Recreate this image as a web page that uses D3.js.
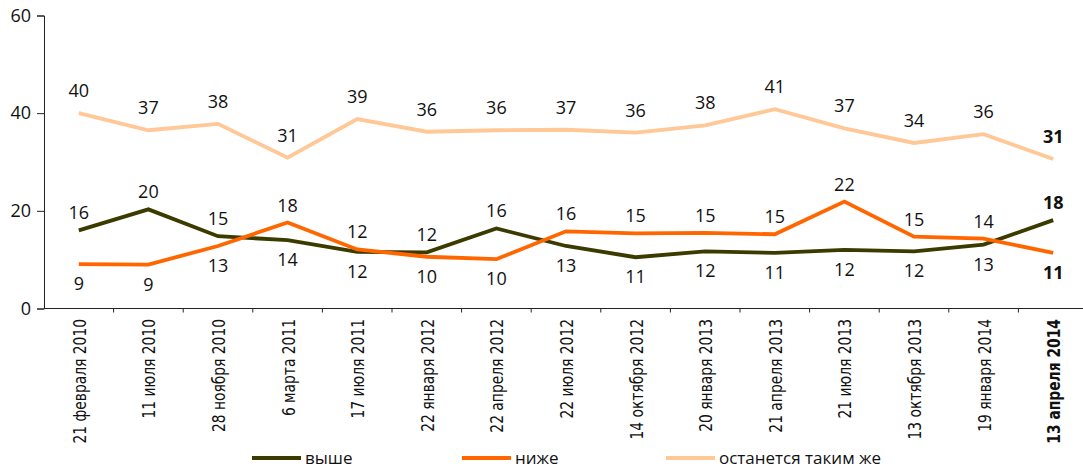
<!DOCTYPE html>
<html>
<head>
<meta charset="utf-8">
<script src="https://cdn.jsdelivr.net/npm/d3@7"></script>
<style>
  html, body { margin: 0; padding: 0; background: #fff; }
  svg { display: block; }
  .num { font-family: "Open Sans", "Noto Sans", sans-serif; font-size: 18px; fill: #111; }
  .xlab { font-family: "Liberation Sans Narrow", "DejaVu Sans Condensed", sans-serif; font-size: 17.5px; fill: #111; }
  .leg { font-family: "Open Sans", "Noto Sans", sans-serif; font-size: 17px; fill: #111; }
</style>
</head>
<body>
<svg id="chart" width="1083" height="470"></svg>
<script>
const categories = ["21 февраля 2010","11 июля 2010","28 ноября 2010","6 марта 2011","17 июля 2011",
  "22 января 2012","22 апреля 2012","22 июля 2012","14 октября 2012","20 января 2013",
  "21 апреля 2013","21 июля 2013","13 октября 2013","19 января 2014","13 апреля 2014"];

const higher = [16.0, 20.3, 14.8, 14.0, 11.6, 11.5, 16.4, 12.8, 10.5, 11.7, 11.4, 12.0, 11.7, 13.1, 18.1];
const higherLabels = [16, 20, 15, 14, 12, 12, 16, 13, 11, 12, 11, 12, 12, 13, 18];

const lower = [9.1, 9.0, 12.8, 17.6, 12.1, 10.6, 10.1, 15.8, 15.4, 15.5, 15.2, 21.9, 14.7, 14.3, 11.4];
const lowerLabels = [9, 9, 13, 18, 12, 10, 10, 16, 15, 15, 15, 22, 15, 14, 11];

const same = [40.0, 36.5, 37.8, 30.9, 38.8, 36.2, 36.5, 36.6, 36.0, 37.5, 40.8, 36.9, 33.9, 35.7, 30.6];
const sameLabels = [40, 37, 38, 31, 39, 36, 36, 37, 36, 38, 41, 37, 34, 36, 31];

const yTicks = [0, 20, 40, 60];
const seriesNames = ["выше", "ниже", "останется таким же"];
const colors = ["#3b3b00", "#ff6600", "#ffc896"];

const svg = d3.select("#chart");
const x = d3.scaleBand().domain(categories).range([44, 1088]).padding(0);
const y = d3.scaleLinear().domain([0, 60]).range([308.5, 15.5]);
const cx = c => x(c) + x.bandwidth() / 2;
const last = categories.length - 1;

// Y axis
const yAxis = svg.append("g").attr("transform", "translate(44,0)")
  .call(d3.axisLeft(y).tickValues(yTicks).tickSize(7).tickPadding(6));
yAxis.select(".domain").attr("stroke", "#222").attr("stroke-width", 1);
yAxis.selectAll(".tick line").attr("stroke", "#222");
yAxis.selectAll(".tick text").attr("class", "num").attr("font-family", null).attr("font-size", null).attr("fill", "#111");

// X axis
const xAxis = svg.append("g").attr("transform", "translate(0," + y(0) + ")")
  .call(d3.axisBottom(x).tickSize(0).tickFormat(""));
xAxis.select(".domain").remove();
xAxis.append("line").attr("x1", 44).attr("x2", 1083).attr("y1", 0).attr("y2", 0)
  .attr("stroke", "#222").attr("stroke-width", 1);
xAxis.selectAll(".tb").data(categories.slice(1)).enter().append("line")
  .attr("x1", d => x(d)).attr("x2", d => x(d)).attr("y1", 0).attr("y2", 4)
  .attr("stroke", "#222");
svg.append("g").selectAll("text").data(categories).enter().append("text")
  .attr("class", "xlab")
  .attr("transform", d => "translate(" + (cx(d) + 7) + "," + 319 + ") rotate(-90) scale(0.88,1)")
  .attr("text-anchor", "end")
  .style("font-weight", (d, i) => i === last ? "bold" : "normal")
  .text(d => d);

// Lines
const series = [higher, lower, same];
const line = d3.line().x((d, i) => cx(categories[i])).y(d => y(d));
series.forEach((s, k) => {
  svg.append("path").datum(s).attr("d", line)
    .attr("fill", "none").attr("stroke", colors[k]).attr("stroke-width", 3.8)
    .attr("stroke-linejoin", "miter");
});

// Labels
function addLabels(vals, labels, above, offAbove) {
  svg.append("g").selectAll("text").data(vals).enter().append("text")
    .attr("class", "num")
    .attr("text-anchor", "middle")
    .attr("x", (d, i) => cx(categories[i]))
    .attr("y", (d, i) => above(i) ? y(d) - offAbove : y(d) + 26)
    .style("font-weight", (d, i) => i === last ? "bold" : "normal")
    .text((d, i) => labels[i]);
}
addLabels(same, sameLabels, () => true, 16);
addLabels(higher, higherLabels, i => higher[i] >= lower[i], 11);
addLabels(lower, lowerLabels, i => lower[i] > higher[i], 11);

// Legend
const legX = [252, 462, 666];
const leg = svg.append("g");
seriesNames.forEach((n, k) => {
  leg.append("line").attr("x1", legX[k]).attr("x2", legX[k] + 49).attr("y1", 458).attr("y2", 458)
    .attr("stroke", colors[k]).attr("stroke-width", 4);
  leg.append("text").attr("class", "leg").attr("x", legX[k] + 53).attr("y", 464).text(n);
});
</script>
</body>
</html>
